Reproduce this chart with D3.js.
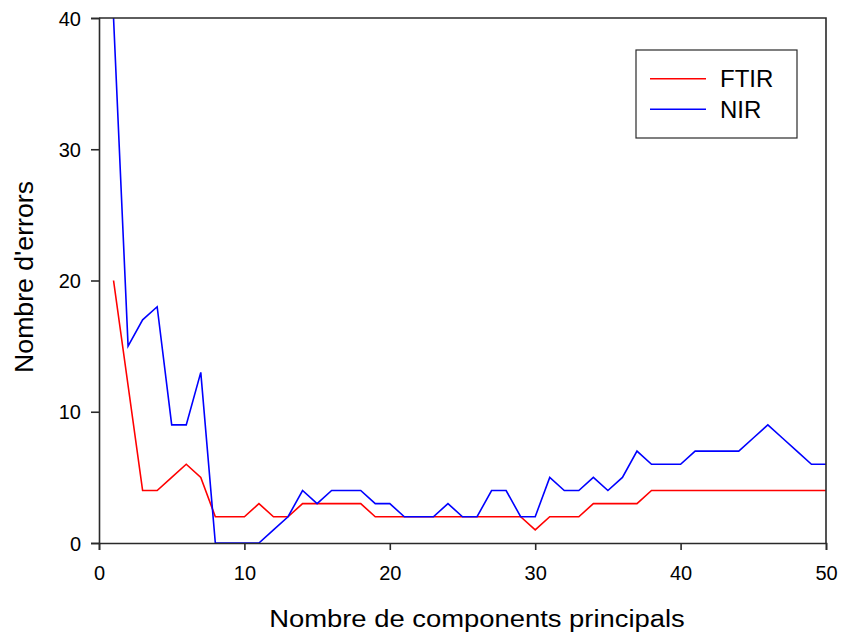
<!DOCTYPE html>
<html><head><meta charset="utf-8">
<script src="https://cdn.jsdelivr.net/npm/d3@7"></script>
<style>body{margin:0;background:#fff}svg{display:block}</style>
</head><body>
<svg id="c" width="843" height="636"></svg>
<script>
const components = d3.range(1, 51);
const ftir = [20,12,4,4,5,6,5,2,2,2,3,2,2,3,3,3,3,3,2,2,2,2,2,2,2,2,2,2,2,1,2,2,2,3,3,3,3,4,4,4,4,4,4,4,4,4,4,4,4,4];
const nir = [40,15,17,18,9,9,13,0,0,0,0,1,2,4,3,4,4,4,3,3,2,2,2,3,2,2,4,4,2,2,5,4,4,5,4,5,7,6,6,6,7,7,7,7,8,9,8,7,6,6];
const xTicks = [0,10,20,30,40,50];
const yTicks = [0,10,20,30,40];
const seriesNames = ["FTIR","NIR"];
const seriesColors = ["#ff0000","#0000ff"];

const svg = d3.select("#c");
const L=99,R=826,T=18,B=543;
const x = d3.scaleLinear().domain([0,50]).range([L,R]);
const y = d3.scaleLinear().domain([0,40]).range([B,T]);
const font = "'Liberation Sans', Arial, sans-serif";

svg.append("defs").append("clipPath").attr("id","clip")
  .append("rect").attr("x",L).attr("y",T).attr("width",R-L).attr("height",B-T);

const g = svg.append("g").attr("clip-path","url(#clip)");
const line = d3.line().x((d,i)=>x(components[i])).y(d=>y(d));
[ftir,nir].forEach((s,k)=>{
  g.append("path").datum(s).attr("d",line).attr("fill","none")
   .attr("stroke",seriesColors[k]).attr("stroke-width",1.6);
});

// frame
svg.append("path").attr("d",`M${L},${T}H${R}V${B}`).attr("fill","none").attr("stroke","#2a2a2a").attr("stroke-width",1.6);

const xa = svg.append("g").attr("transform",`translate(0,${B})`)
  .call(d3.axisBottom(x).tickValues(xTicks).tickSizeOuter(0).tickSize(7));
const ya = svg.append("g").attr("transform",`translate(${L},0)`)
  .call(d3.axisLeft(y).tickValues(yTicks).tickSizeOuter(0).tickSize(8).tickPadding(10));
[xa,ya].forEach(a=>{
  a.select(".domain").attr("stroke","#2a2a2a").attr("stroke-width",1.6);
  a.selectAll(".tick line").attr("stroke","#2a2a2a").attr("stroke-width",1.6);
  a.selectAll("text").attr("font-family",font).attr("font-size",20).attr("fill","#000");
});
xa.selectAll(".tick text").attr("y",37).attr("dy",0);
ya.selectAll(".tick text").attr("dy","0.36em");

svg.append("text").attr("transform","translate(477,627) scale(1,0.87)").attr("text-anchor","middle")
  .attr("font-family",font).attr("font-size",27.4).text("Nombre de components principals");
svg.append("text").attr("transform","translate(33,277) rotate(-90)").attr("text-anchor","middle")
  .attr("font-family",font).attr("font-size",26.7).text("Nombre d'errors");

// legend
const lg = svg.append("g");
lg.append("rect").attr("x",636).attr("y",50).attr("width",161).attr("height",88)
  .attr("fill","#fff").attr("stroke","#2a2a2a").attr("stroke-width",1.2);
seriesNames.forEach((n,i)=>{
  const yy = 78.7 + i*30.6;
  lg.append("line").attr("x1",650).attr("x2",706).attr("y1",yy).attr("y2",yy)
    .attr("stroke",seriesColors[i]).attr("stroke-width",1.6);
  lg.append("text").attr("x",720).attr("y",yy+8.6).attr("font-family",font).attr("font-size",24).text(n);
});
</script>
</body></html>
